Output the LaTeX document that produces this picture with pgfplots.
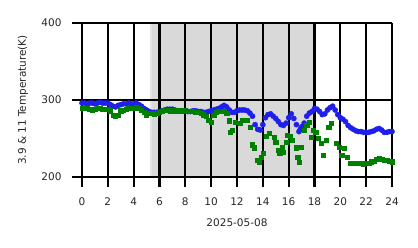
\documentclass[border=0pt]{standalone}
\usepackage{pgfplots}
\pgfplotsset{compat=1.18}
\usepackage{fontspec}
\setmainfont{DejaVu Sans}
\definecolor{bl}{rgb}{0.12,0.12,0.93}
\definecolor{gr}{rgb}{0,0.5,0}
\definecolor{sh}{rgb}{0.85,0.85,0.85}
\definecolor{shl}{rgb}{0.89,0.89,0.89}
\begin{document}
\begin{tikzpicture}
\begin{axis}[
  scale only axis, width=310bp, height=154bp,
  xmin=0, xmax=24, ymin=200, ymax=400,
  xtick={0,2,...,24}, ytick={200,300,400},
  axis on top,
  grid=major, grid style={black, line width=2.2bp},
  axis line style={draw=none},
  tick align=outside, major tick length=10bp,
  tick style={black, line width=2.2bp},
  xtick pos=bottom, ytick pos=left,
  font=\fontsize{10.5bp}{12bp}\selectfont,
  ticklabel style={text=black!85, font=\fontsize{10.5bp}{12bp}\selectfont},
  /pgf/number format/assume math mode=true,
  xticklabel style={yshift=-7bp},
  yticklabel style={xshift=-7bp},
  xlabel={2025-05-08}, ylabel={3.9 \& 11 Temperature(K)},
  xlabel style={text=black!85, at={(axis description cs:0.5,0)}, anchor=center, yshift=-46bp},
  ylabel style={text=black!85, at={(axis description cs:0,0.5)}, anchor=center, rotate=0, yshift=59bp},
  clip=false,
]
\fill[shl] (axis cs:5.23,200) rectangle (axis cs:5.45,400);
\fill[sh] (axis cs:5.45,200) rectangle (axis cs:17.85,400);
\addplot[only marks, mark=*, mark size=2.6bp, color=bl, mark options={draw=none, fill=bl}] coordinates {
(0.0,296)(0.2,296)(0.4,295)(0.6,296)(0.8,296)(1.0,295)(1.2,296)(1.4,297)(1.6,296)(1.8,296)
(2.0,296)(2.2,294)(2.4,292)(2.6,291)(2.8,293)(3.0,294)(3.2,295)(3.4,295)(3.6,296)(3.8,295)
(4.0,295)(4.2,296)(4.4,294)(4.6,292)(4.8,289)(5.0,287)(5.2,285)(5.4,284)(5.6,284)(5.8,284)
(6.0,285)(6.2,286)(6.4,287)(6.6,288)(6.8,288)(7.0,288)(7.2,287)(7.4,286)(7.6,286)(7.8,286)
(8.0,286)(8.2,285)(8.4,285)(8.6,286)(8.8,286)(9.0,285)(9.2,285)(9.4,284)(9.6,284)(9.8,285)
(10.0,286)(10.2,287)(10.4,288)(10.6,289)(10.8,291)(11.0,293)(11.2,291)(11.4,287)(11.6,284)(11.8,284)
(12.0,286)(12.2,287)(12.4,287)(12.6,287)(12.8,286)(13.0,283)(13.2,279)(13.4,268)(13.6,262)(13.8,261)
(14.0,268)(14.2,277)(14.4,281)(14.6,282)(14.8,279)(15.0,276)(15.2,272)(15.4,268)(15.6,267)(15.8,270)
(16.0,277)(16.2,282)(16.4,276)(16.6,268)(16.8,259)(16.9,262)(17.0,265)(17.1,266)(17.2,270)(17.4,279)
(17.6,283)(17.8,285)(18.0,289)(18.2,288)(18.4,285)(18.6,281)(18.8,282)(19.0,287)(19.2,290)(19.4,292)
(19.6,287)(19.8,281)(20.0,277)(20.2,275)(20.4,272)(20.6,267)(20.8,264)(21.0,262)(21.2,260)(21.4,259)
(21.6,259)(21.8,258)(22.0,258)(22.2,258)(22.4,259)(22.6,260)(22.8,262)(23.0,263)(23.2,261)(23.4,258)
(23.6,258)(23.8,259)(24.0,259)
};
\addplot[only marks, mark=square*, mark size=2.1bp, color=gr, mark options={draw=none, fill=gr}] coordinates {
(0.0,289)(0.2,289)(0.4,289)(0.6,288)(0.8,287)(1.0,288)(1.2,289)(1.4,289)(1.6,288)(1.8,288)
(2.0,288)(2.2,286)(2.4,280)(2.6,279)(2.8,280)(3.0,286)(3.2,287)(3.4,288)(3.6,289)(3.8,289)
(4.0,289)(4.2,290)(4.4,289)(4.6,287)(4.8,284)(5.0,281)(5.2,283)(5.4,283)(5.6,282)(5.8,283)
(6.0,284)(6.2,285)(6.4,287)(6.6,287)(6.8,286)(7.0,287)(7.2,286)(7.4,286)(7.6,286)(7.8,285)
(8.0,286)(8.2,285)(8.4,285)(8.6,285)(8.8,284)(9.0,284)(9.2,283)(9.4,281)(9.6,279)(9.8,274)
(10.0,271)(10.2,280)(10.4,284)(10.6,285)(10.8,285)(11.0,285)(11.2,283)
(11.4,273)(11.5,258)(11.65,261)(11.85,271)(12.25,270)(12.4,274)(12.6,274)(12.8,274)(13.0,265)
(13.2,242)(13.35,238)(13.55,222)(13.7,219.5)(13.85,226)(14.05,231)(14.25,253)(14.5,257)(14.85,252)
(15.0,245)(15.2,235)(15.3,231)(15.5,238)(15.6,232)(15.8,245)(15.9,254.5)(16.1,253)(16.3,248)
(16.6,238)(16.7,226)(16.8,219.5)(16.96,239)(17.2,261)(17.4,267.5)(17.6,271)(17.75,252)(17.9,261)
(18.1,258)(18.3,250.6)(18.5,244)(18.7,228.6)(18.9,248)(19.1,265)(19.3,270)(19.7,244)(19.9,239)
(20.1,228.6)(20.3,237.6)(20.55,226)
(20.8,218)(21.0,218)(21.2,218)(21.4,217.5)(21.6,217.5)(21.8,217)(22.0,217.5)(22.2,218)(22.4,220)
(22.6,221)(22.8,223)(23.0,224)(23.2,223)(23.4,222)(23.6,222)(23.8,221)(24.0,220)
};
\end{axis}
\pgfresetboundingbox
\path (-82bp,-71bp) rectangle (336bp,177bp);
\end{tikzpicture}
\end{document}
